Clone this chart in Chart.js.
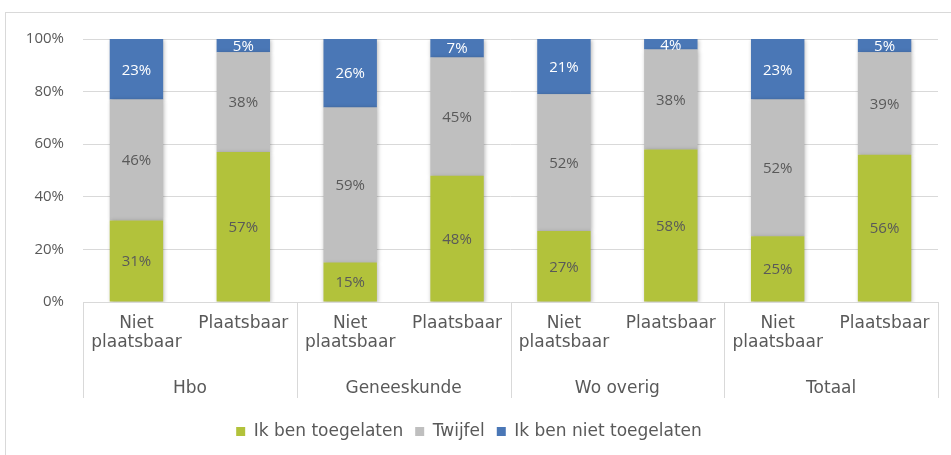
<!DOCTYPE html>
<html>
<head>
<meta charset="utf-8">
<script src="https://cdn.jsdelivr.net/npm/chart.js@4"></script>
<style>
  body { margin: 0; background: #fff; }
  #frame { position: absolute; left: 5px; top: 12px; width: 960px; height: 460px; border: 1px solid #d9d9d9; }
  #myChart { position: absolute; left: 0; top: 0; }
</style>
</head>
<body>
<div id="frame"></div>
<canvas id="myChart" width="951" height="455"></canvas>
<script>
/* data */
const categories = [['Niet', 'plaatsbaar'], 'Plaatsbaar', ['Niet', 'plaatsbaar'], 'Plaatsbaar',
                    ['Niet', 'plaatsbaar'], 'Plaatsbaar', ['Niet', 'plaatsbaar'], 'Plaatsbaar'];
const groups = ['Hbo', 'Geneeskunde', 'Wo overig', 'Totaal'];
const toegelaten = [31, 57, 15, 48, 27, 58, 25, 56];
const twijfel = [46, 38, 59, 45, 52, 38, 52, 39];
const nietToegelaten = [23, 5, 26, 7, 21, 4, 23, 5];
const yTicks = [0, 20, 40, 60, 80, 100];

const textGrey = '#595959';
const lineGrey = '#d9d9d9';

// waarde-labels midden in elk segment
const barLabels = {
  id: 'barLabels',
  afterDatasetsDraw(chart) {
    const ctx = chart.ctx;
    const area = chart.chartArea;
    ctx.save();
    ctx.beginPath();
    ctx.rect(area.left, area.top, area.right - area.left, area.bottom - area.top);
    ctx.clip();
    ctx.font = '15px "Open Sans"';
    ctx.textAlign = 'center';
    ctx.textBaseline = 'middle';
    chart.data.datasets.forEach((ds, i) => {
      chart.getDatasetMeta(i).data.forEach((bar, j) => {
        ctx.fillStyle = ds.labelColor;
        ctx.fillText(ds.data[j] + '%', bar.x, (bar.y + bar.base) / 2 + 1);
      });
    });
    ctx.restore();
  }
};

// schaduw onder de balken
const barShadow = {
  id: 'barShadow',
  beforeDatasetsDraw(chart) {
    const ctx = chart.ctx;
    ctx.save();
    ctx.shadowColor = 'rgba(0,0,0,0.28)';
    ctx.shadowBlur = 4;
    ctx.shadowOffsetX = 1;
    ctx.shadowOffsetY = 1;
  },
  afterDatasetsDraw(chart) {
    chart.ctx.restore();
  }
};

// scheidingslijnen tussen de groepen
const groupLines = {
  id: 'groupLines',
  afterDraw(chart) {
    const ctx = chart.ctx;
    const x = chart.scales.x;
    const area = chart.chartArea;
    ctx.save();
    ctx.strokeStyle = lineGrey;
    ctx.lineWidth = 1;
    for (let i = 0; i <= groups.length; i++) {
      let px;
      if (i === 0) px = area.left;
      else if (i === groups.length) px = area.right;
      else px = (x.getPixelForValue(2 * i - 1) + x.getPixelForValue(2 * i)) / 2;
      px = Math.round(px) + 0.5;
      ctx.beginPath();
      ctx.moveTo(px, area.bottom);
      ctx.lineTo(px, 398);
      ctx.stroke();
    }
    ctx.restore();
  }
};

const ctx = document.getElementById('myChart');
var config = {
  type: 'bar',
  data: {
    labels: categories,
    datasets: [
      { label: 'Ik ben toegelaten', data: toegelaten, backgroundColor: '#b2c23b', labelColor: textGrey },
      { label: 'Twijfel', data: twijfel, backgroundColor: '#bfbfbf', labelColor: textGrey },
      { label: 'Ik ben niet toegelaten', data: nietToegelaten, backgroundColor: '#4a77b6', labelColor: '#ffffff' }
    ]
  },
  options: {
    responsive: false,
    animation: false,
    categoryPercentage: 1,
    barPercentage: 0.5,
    layout: { padding: { top: 39, right: 13, bottom: 5, left: 0 } },
    plugins: {
      tooltip: { enabled: false },
      legend: {
        position: 'bottom',
        labels: {
          boxWidth: 9, boxHeight: 9, padding: 12,
          color: textGrey,
          font: { family: 'DejaVu Sans', size: 17 }
        }
      }
    },
    scales: {
      x: {
        stacked: true,
        grid: { display: false },
        border: { display: false },
        ticks: {
          color: textGrey, padding: 4, maxRotation: 0, autoSkip: false,
          font: { family: 'DejaVu Sans', size: 17, lineHeight: 1.12 }
        },
        afterFit: s => { s.height = 60; }
      },
      x2: {
        type: 'category',
        labels: groups,
        position: 'bottom',
        offset: true,
        grid: { display: false },
        border: { display: false },
        ticks: { color: textGrey, padding: 8, font: { family: 'DejaVu Sans', size: 17 } },
        afterFit: s => { s.height = 49; }
      },
      y: {
        stacked: true,
        min: 0,
        max: 100,
        afterBuildTicks: s => { s.ticks = yTicks.map(v => ({ value: v })); },
        grid: { color: lineGrey, drawTicks: false },
        border: { display: false },
        ticks: {
          color: textGrey, padding: 19,
          font: { family: 'Open Sans', size: 15 },
          callback: v => v + '%'
        },
        afterFit: s => { s.width = 83; }
      }
    }
  },
  plugins: [barShadow, barLabels, groupLines]
};

var myChart = new Chart(ctx, config);
</script>
</body>
</html>
